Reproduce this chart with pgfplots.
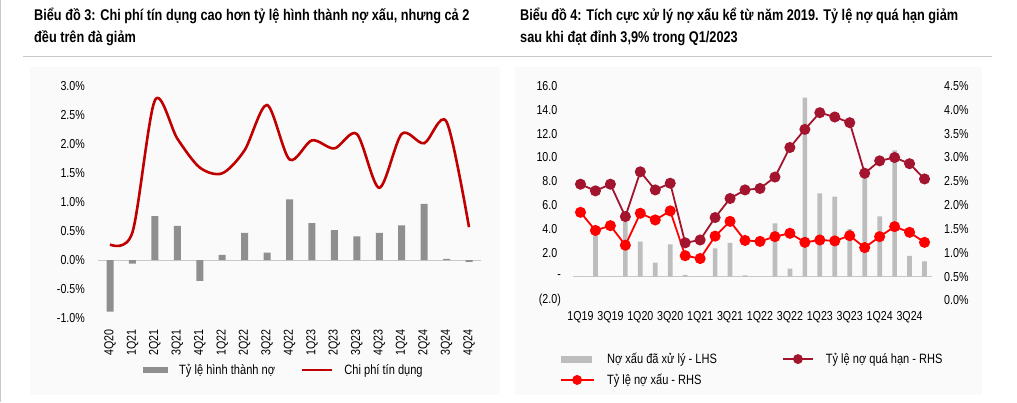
\documentclass[border=0pt]{standalone}
\usepackage{fontspec}
\setmainfont{Liberation Sans}[FakeStretch=0.82]
\usepackage{pgfplots}
\pgfplotsset{compat=1.18}
\usepackage{pgfplotstable}

\definecolor{barL}{HTML}{8F8F8F}
\definecolor{lineL}{HTML}{C00000}
\definecolor{barR}{HTML}{BDBDBD}
\definecolor{dred}{HTML}{A3152F}
\definecolor{bred}{HTML}{FF0000}
\definecolor{sepc}{HTML}{C8C8C8}
\definecolor{panel}{HTML}{FAFAFA}

\pgfplotstableread{
x form cost
0 -0.89 0.27
1 -0.06 0.48
2 0.76 2.76
3 0.59 2.10
4 -0.36 1.60
5 0.09 1.50
6 0.47 1.90
7 0.13 2.68
8 1.05 1.74
9 0.64 2.07
10 0.52 1.93
11 0.41 2.18
12 0.47 1.25
13 0.60 2.18
14 0.97 2.02
15 0.02 2.39
16 -0.03 0.57
}\leftdata

\pgfplotstableread{
i bars overdue npl
0 0 2.44 1.85
1 3.8 2.30 1.47
2 0 2.44 1.57
3 4.6 1.76 1.16
4 2.94 2.70 1.83
5 1.17 2.32 1.69
6 2.71 2.46 1.88
7 0.14 1.21 0.94
8 0 1.27 0.88
9 2.38 1.74 1.35
10 2.83 2.14 1.66
11 0.1 2.32 1.26
12 0 2.35 1.24
13 4.47 2.59 1.34
14 0.68 3.21 1.41
15 15.02 3.59 1.22
16 7.0 3.94 1.27
17 6.72 3.85 1.25
18 4.0 3.73 1.36
19 8.64 2.67 1.11
20 5.06 2.93 1.34
21 10.6 3.00 1.55
22 1.74 2.87 1.43
23 1.29 2.55 1.22
}\rightdata

\newcommand{\tickfont}{\fontsize{13}{13}\selectfont}
\newcommand{\legfont}{\fontsize{13.5}{14}\selectfont}
\newcommand{\titfont}{\fontsize{15.5}{16}\selectfont\bfseries}

\begin{document}
\begin{tikzpicture}
\useasboundingbox (0pt,0pt) rectangle (1017pt,402pt);
\fill[white] (0pt,0pt) rectangle (1017pt,402pt);
\draw[sepc, line width=1pt] (0.5pt,0pt) -- (0.5pt,402pt);
\fill[panel] (30pt,7pt) rectangle (500pt,335pt);
\fill[panel] (515pt,7pt) rectangle (982pt,335pt);
\draw[sepc, line width=1pt] (23pt,345pt) -- (992pt,345pt);

\node[anchor=base west, inner sep=0pt, font=\titfont] at (34pt,381pt) {Biểu đồ 3: Chi phí tín dụng cao hơn tỷ lệ hình thành nợ xấu, nhưng cả 2};
\node[anchor=base west, inner sep=0pt, font=\titfont] at (34pt,359pt) {đều trên đà giảm};
\node[anchor=base west, inner sep=0pt, font=\titfont] at (520pt,381pt) {Biểu đồ 4: Tích cực xử lý nợ xấu kể từ năm 2019. Tỷ lệ nợ quá hạn giảm};
\node[anchor=base west, inner sep=0pt, font=\titfont] at (520pt,359pt) {sau khi đạt đỉnh 3,9\% trong Q1/2023};

% ---------------- Left chart ----------------
\begin{axis}[
  at={(98pt,84pt)}, anchor=south west,
  scale only axis, width=383pt, height=231.5pt,
  xmin=-0.535, xmax=16.535, ymin=-1, ymax=3,
  axis line style={draw=none},
  tick style={draw=none}, major tick length=0pt,
  ytick={-1,-0.5,0,0.5,1,1.5,2,2.5,3},
  yticklabels={-1.0\%,-0.5\%,0.0\%,0.5\%,1.0\%,1.5\%,2.0\%,2.5\%,3.0\%},
  yticklabel style={font=\tickfont, anchor=east, inner sep=0pt},
  yticklabel shift=13pt,
  xtick={0,...,16},
  xticklabels={4Q20,1Q21,2Q21,3Q21,4Q21,1Q22,2Q22,3Q22,4Q22,1Q23,2Q23,3Q23,4Q23,1Q24,2Q24,3Q24,4Q24},
  xticklabel style={font=\tickfont, rotate=90, anchor=east, inner sep=0pt},
  xticklabel shift=11pt,
  extra y ticks={0}, extra y tick labels={},
  extra y tick style={grid=major, major grid style={sepc, line width=1pt}},
  legend style={at={(axis description cs:0.1175,-0.2246)}, anchor=west,
    draw=none, fill=none, inner sep=0pt, font=\legfont,
    nodes={inner sep=0pt},
    legend columns=2,
    /tikz/every odd column/.append style={column sep=11pt},
    /tikz/every even column/.append style={column sep=26pt}},
]
\addplot[ybar, bar width=7pt, fill=barL, draw=none,
  legend image code/.code={\fill[barL] (0pt,-3pt) rectangle (25pt,3pt);}]
  table[x=x, y=form]{\leftdata};
\addlegendentry{Tỷ lệ hình thành nợ}
\addplot[lineL, line width=2.6pt, smooth, no marks,
  legend image code/.code={\draw[lineL, line width=2.4pt] (0pt,0pt) -- (30pt,0pt);}]
  table[x=x, y=cost]{\leftdata};
\addlegendentry{Chi phí tín dụng}
\end{axis}

% ---------------- Right chart ----------------
\begin{axis}[
  at={(573pt,101.5pt)}, anchor=south west,
  scale only axis, width=359pt, height=214.5pt,
  xmin=-0.5, xmax=23.5, ymin=-2, ymax=16,
  axis line style={draw=none},
  tick style={draw=none}, major tick length=0pt,
  ytick={-2,0,2,4,6,8,10,12,14,16},
  yticklabels={(2.0),-\hspace{8pt},2.0\hphantom{)},4.0\hphantom{)},6.0\hphantom{)},8.0\hphantom{)},10.0\hphantom{)},12.0\hphantom{)},14.0\hphantom{)},16.0\hphantom{)}},
  yticklabel style={font=\tickfont, anchor=east, inner sep=0pt},
  yticklabel shift=12pt,
  xtick={0,2,...,22},
  xticklabels={1Q19,3Q19,1Q20,3Q20,1Q21,3Q21,1Q22,3Q22,1Q23,3Q23,1Q24,3Q24},
  xticklabel style={font=\tickfont, anchor=north, inner sep=0pt},
  xticklabel shift=11pt,
  extra y ticks={0}, extra y tick labels={},
  extra y tick style={grid=major, major grid style={sepc, line width=1pt}},
  legend style={at={(axis description cs:-0.0362,-0.3217)}, anchor=west,
    draw=none, fill=none, inner sep=0pt, font=\legfont,
    nodes={inner sep=0pt, anchor=west},
    legend columns=2,
    row sep=9pt,
    /tikz/every odd column/.append style={column sep=12pt},
    /tikz/every even column/.append style={column sep=65pt}},
]
\addplot[ybar, bar width=4.7pt, fill=barR, draw=none,
  legend image code/.code={\fill[barR] (0pt,-3.5pt) rectangle (31pt,3.5pt);}]
  table[x=i, y=bars]{\rightdata};
\addlegendentry{Nợ xấu đã xử lý - LHS}
\addplot[dred, line width=1.8pt, mark=*, mark size=4.6pt,
  legend image code/.code={\draw[dred, line width=1.8pt] (0pt,0pt) -- (30pt,0pt); \fill[dred] (15pt,0pt) circle (4pt);}]
  table[x=i, y expr=4*\thisrow{overdue}-2]{\rightdata};
\addlegendentry{Tỷ lệ nợ quá hạn - RHS}
\addplot[bred, line width=1.8pt, mark=*, mark size=4.6pt,
  legend image code/.code={\draw[bred, line width=1.8pt] (0pt,0pt) -- (33pt,0pt); \fill[bred] (16pt,0pt) circle (4pt);}]
  table[x=i, y expr=4*\thisrow{npl}-2]{\rightdata};
\addlegendentry{Tỷ lệ nợ xấu - RHS}
\end{axis}

\begin{axis}[
  at={(573pt,101.5pt)}, anchor=south west,
  scale only axis, width=359pt, height=214.5pt,
  xmin=-0.5, xmax=23.5, ymin=0, ymax=4.5,
  hide x axis, axis y line*=right,
  y axis line style={draw=none},
  tick style={draw=none}, major tick length=0pt,
  ytick={0,0.5,1,1.5,2,2.5,3,3.5,4,4.5},
  yticklabels={0.0\%,0.5\%,1.0\%,1.5\%,2.0\%,2.5\%,3.0\%,3.5\%,4.0\%,4.5\%},
  yticklabel style={font=\tickfont, anchor=west, inner sep=0pt},
  yticklabel shift=12pt,
]
\addplot[draw=none, forget plot] coordinates {(0,0)};
\end{axis}
\end{tikzpicture}
\end{document}
